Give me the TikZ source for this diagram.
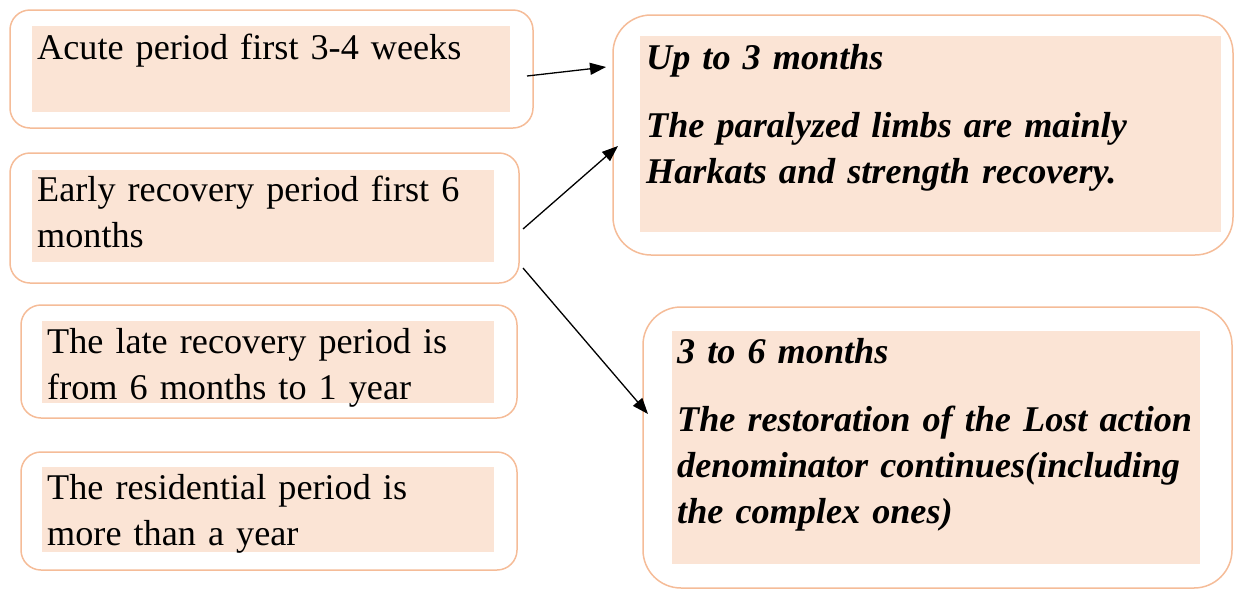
\documentclass[tikz,border=0pt]{standalone}
\usepackage{fontspec}
\setmainfont{Liberation Serif}
\usetikzlibrary{arrows.meta, positioning}

\definecolor{peachline}{HTML}{F5BC98}
\definecolor{peachfill}{HTML}{FBE4D5}

\begin{document}
\begin{tikzpicture}[
        x=1pt, y=-1pt,
        outerbox/.style={draw=peachline, line width=1.5pt, rounded corners=20pt, inner sep=0pt},
        bigbox/.style={outerbox, rounded corners=38pt},
        fillbox/.style={fill=peachfill, inner sep=0pt},
        txt/.style={font=\fontsize{36.2}{46}\selectfont, align=left, text width=600pt, inner sep=0pt, anchor=base west},
        btxt/.style={txt, font=\fontsize{36.2}{46}\selectfont\bfseries\itshape},
        arr/.style={-{Triangle[length=16pt, width=12pt]}, line width=1.3pt}
    ]
        \useasboundingbox (0,0) rectangle (1234,590);

        % left column
        \node[outerbox, minimum width=523pt, minimum height=118pt] (acute) at (271.5,69) {};
        \node[fillbox, minimum width=478pt, minimum height=86pt] (acutefill) at (271,69) {};
        \node[txt] (acutetxt) at (37,59) {Acute period first 3-4 weeks};

        \node[outerbox, minimum width=509pt, minimum height=130pt] (early) at (264.5,218) {};
        \node[fillbox, minimum width=462pt, minimum height=92pt] (earlyfill) at (263,216) {};
        \node[txt] (earlytxt) at (37,201) {Early recovery period first 6\\months};

        \node[outerbox, minimum width=496pt, minimum height=113pt] (late) at (269,361.5) {};
        \node[fillbox, minimum width=452pt, minimum height=82pt] (latefill) at (268,362) {};
        \node[txt] (latetxt) at (47,353) {The late recovery period is\\from 6 months to 1 year};

        \node[outerbox, minimum width=496pt, minimum height=118pt] (resid) at (269,511) {};
        \node[fillbox, minimum width=452pt, minimum height=85pt] (residfill) at (268,509.5) {};
        \node[txt] (residtxt) at (47,499) {The residential period is\\more than a year};

        % right column
        \node[bigbox, minimum width=620pt, minimum height=240pt] (upto) at (923,135) {};
        \node[fillbox, minimum width=581pt, minimum height=196pt] (uptofill) at (930.5,134) {};
        \node[btxt] (uptotxt) at (646,69) {Up to 3 months\\[22pt]The paralyzed limbs are mainly\\Harkats and strength recovery.};

        \node[bigbox, minimum width=589pt, minimum height=281pt] (three) at (937.5,447.5) {};
        \node[fillbox, minimum width=528pt, minimum height=233pt] (threefill) at (936,447.5) {};
        \node[btxt] (threetxt) at (677,363) {3 to 6 months\\[22pt]The restoration of the Lost action\\denominator continues(including\\the complex ones)};

        % arrows
        \coordinate (acuteout) at (527,76);
        \coordinate (uptoin1) at (606,67);
        \coordinate (earlyout1) at (523,229);
        \coordinate (uptoin2) at (618,146);
        \coordinate (earlyout2) at (523,268);
        \coordinate (threein) at (648,414);

        \draw[arr] (acuteout) -- (uptoin1);
        \draw[arr] (earlyout1) -- (uptoin2);
        \draw[arr] (earlyout2) -- (threein);
    \end{tikzpicture}
\end{document}
